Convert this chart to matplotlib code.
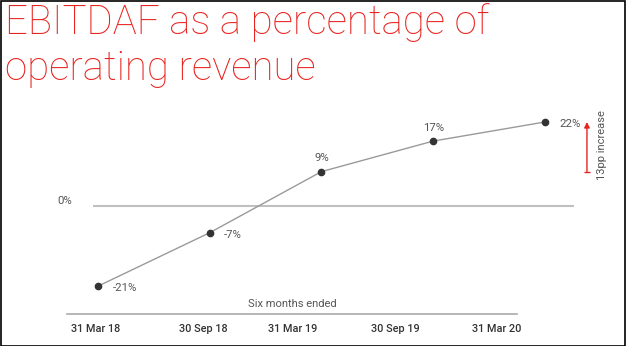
import matplotlib

matplotlib.use("Agg")
import matplotlib.pyplot as plt
from matplotlib.patches import Rectangle

periods = ["31 Mar 18", "30 Sep 18", "31 Mar 19", "30 Sep 19", "31 Mar 20"]
ebitdaf_pct = [-21, -7, 9, 17, 22]
label_side = ["right", "right", "above", "above", "right"]
increase_from, increase_to = 9, 22

RED = "#e8231f"
GREY = "#555555"
FONT = "Roboto"

W, H = 626, 346
fig = plt.figure(figsize=(W / 100, H / 100), dpi=100)
fig.patch.set_facecolor("white")

# axes whose bottom spine is the "Six months ended" base line
ax = fig.add_axes([67 / W, 32 / H, 450 / W, 214 / H])
ax.set_xlim(-0.277, 3.75)
ax.set_ylim(-28.29, 27.76)
for s in ("top", "left", "right"):
    ax.spines[s].set_visible(False)
ax.spines["bottom"].set_color("#aaaaaa")
ax.spines["bottom"].set_linewidth(1.2)
ax.set_yticks([])

xs = list(range(len(periods)))
ax.hlines(0, -0.045, 4.26, color="#c0c0c0", lw=1.5, clip_on=False)
ax.plot(xs, ebitdaf_pct, color="#9a9a9a", lw=1.0, marker="o", ms=4.5,
        mfc="#333333", mec="#333333", clip_on=False, zorder=3)

for x, v, side in zip(xs, ebitdaf_pct, label_side):
    txt = f"{v}%"
    if side == "above":
        ax.text(x, v + 2.2, txt, ha="center", va="bottom", fontsize=8.2,
                color=GREY, family=FONT)
    else:
        ax.text(x + 0.13, v - 0.6, txt, ha="left", va="center", fontsize=8.2,
                color=GREY, family=FONT)

ax.text(-0.295, 1.2, "0%", ha="center", va="center", fontsize=8.2,
        color=GREY, family=FONT)

# tick labels sit slightly left of the points in the original
ax.set_xticks([-0.018, 0.94, 1.745, 2.66, 3.57])
ax.set_xticklabels(periods, fontsize=7.8, color="#333333", family=FONT,
                   fontweight="medium")
ax.tick_params(axis="x", length=0, pad=7)
ax.text(0.5, 0.025, "Six months ended", transform=ax.transAxes, ha="center",
        va="bottom", fontsize=8, color=GREY, family=FONT)

# 13pp increase arrow
ax.annotate("", xy=(4.376, increase_to), xytext=(4.376, increase_from),
            arrowprops=dict(arrowstyle="-|>", color=RED, lw=1.0,
                            mutation_scale=8, shrinkA=0, shrinkB=0),
            annotation_clip=False)
ax.hlines(increase_from, 4.35, 4.40, color=RED, lw=1.0, clip_on=False)
ax.text(4.51, (increase_from + increase_to) / 2 + 0.5,
        f"{increase_to - increase_from}pp increase", rotation=90,
        ha="center", va="center", fontsize=8, color=GREY, family=FONT)

fig.text(5 / W, 1 - 34 / H, "EBITDAF as a percentage of", ha="left",
         va="baseline", fontsize=28.9, color=RED, family=FONT, fontweight="light")
fig.text(5 / W, 1 - 80 / H, "operating revenue", ha="left", va="baseline",
         fontsize=28.9, color=RED, family=FONT, fontweight="light")

fig.add_artist(Rectangle((0.5 / W, 0.5 / H), 1 - 1.5 / W, 1 - 1.5 / H,
                         transform=fig.transFigure, fill=False,
                         edgecolor="black", lw=1.2))

fig.savefig("out.png", dpi=100)
